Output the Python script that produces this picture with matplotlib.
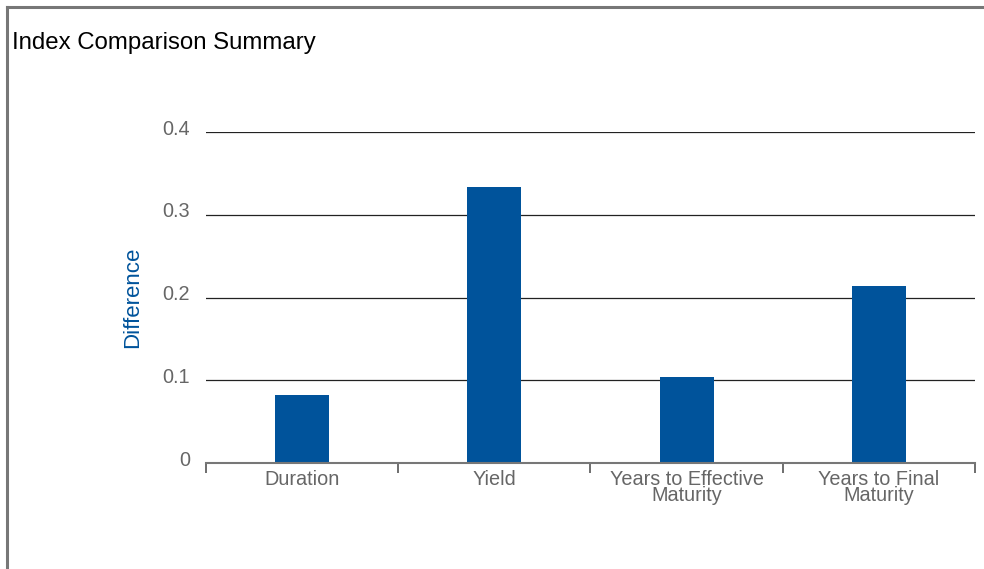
import matplotlib
matplotlib.use("Agg")
import matplotlib.pyplot as plt
import matplotlib.transforms as mtransforms
from matplotlib.lines import Line2D

plt.rcParams["font.family"] = ["Liberation Sans", "DejaVu Sans"]

# data
categories = ["Duration", "Yield", "Years to Effective\nMaturity", "Years to Final\nMaturity"]
differences = [0.082, 0.334, 0.104, 0.214]
y_ticks = [0, 0.1, 0.2, 0.3, 0.4]
y_tick_labels = ["0", "0.1", "0.2", "0.3", "0.4"]

blue = "#00539b"
grey_text = "#666666"

fig = plt.figure(figsize=(9.84, 5.69), dpi=100)
ax = fig.add_axes([0.2093, 0.1863, 0.7816, 0.5817])

x = range(len(categories))
ax.bar(x, differences, width=0.28, color=blue, zorder=3)

ax.set_xlim(-0.5, len(categories) - 0.5)
ax.set_ylim(0, 0.4)

# gridlines
ax.set_yticks(y_ticks)
ax.set_yticklabels(y_tick_labels, color=grey_text, fontsize=14.3)
ax.yaxis.grid(True, color="#222222", linewidth=0.9, zorder=0)
ax.tick_params(axis="y", length=0, pad=11.5)
shift = mtransforms.ScaledTranslation(0, 3.5 / 72, fig.dpi_scale_trans)
for lbl in ax.get_yticklabels():
    lbl.set_transform(lbl.get_transform() + shift)

# x ticks: labels at centres, marks at boundaries
ax.set_xticks(list(x))
ax.set_xticklabels(categories, color=grey_text, fontsize=14.3, linespacing=0.78)
ax.set_xticks([i - 0.5 for i in range(len(categories) + 1)], minor=True)
ax.tick_params(axis="x", which="major", length=0, pad=5)
ax.tick_params(axis="x", which="minor", length=7, color="#555555", width=1.2)

for side in ["top", "right", "left"]:
    ax.spines[side].set_visible(False)
ax.spines["bottom"].set_color("#777777")
ax.spines["bottom"].set_linewidth(1.5)
ax.spines["bottom"].set_zorder(4)

ax.set_ylabel("Difference", color=blue, fontsize=16)
ax.yaxis.set_label_coords(-0.082, 0.5)

fig.text(0.012, 0.925, "Index Comparison Summary", fontsize=17.3, color="black", va="center")

# outer frame (top and left)
fig.add_artist(Line2D([0.007, 1.0], [0.988, 0.988], transform=fig.transFigure, color="#777777", linewidth=2.2))
fig.add_artist(Line2D([0.007, 0.007], [0.0, 0.988], transform=fig.transFigure, color="#777777", linewidth=2.2))

fig.savefig("out.png", dpi=100)
